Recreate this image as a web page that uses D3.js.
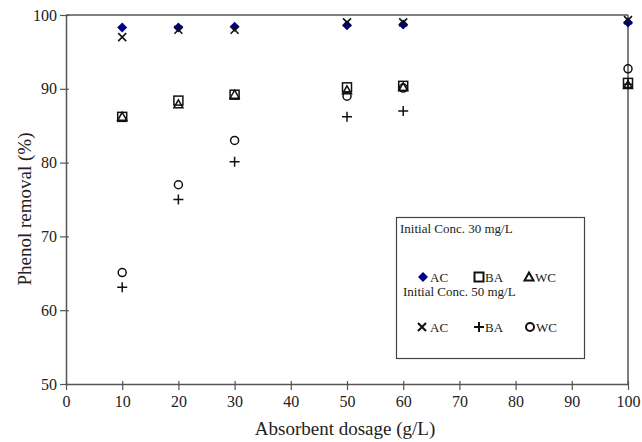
<!DOCTYPE html>
<html><head><meta charset="utf-8">
<script src="https://cdn.jsdelivr.net/npm/d3@7"></script>
<style>body{margin:0;background:#fff}svg{display:block}text{font-family:"Liberation Serif","Times New Roman",serif}</style>
</head><body><svg id="c" width="642" height="442"></svg>
<script>
const dosage = [10, 20, 30, 50, 60, 100];
const ac30 = [98.3, 98.3, 98.4, 98.6, 98.7, 99.0];
const ba30 = [86.2, 88.4, 89.2, 90.2, 90.4, 90.8];
const wc30 = [86.2, 87.9, 89.2, 89.8, 90.2, 90.5];
const ac50 = [97.0, 98.0, 98.0, 99.0, 99.0, 99.3];
const ba50 = [63.1, 75.0, 80.1, 86.2, 87.0, 90.6];
const wc50 = [65.1, 77.0, 83.0, 89.0, 90.1, 92.7];
const xTicks = [0,10,20,30,40,50,60,70,80,90,100];
const yTicks = [50,60,70,80,90,100];

const svg = d3.select("#c");
const x = d3.scaleLinear().domain([0,100]).range([66,628]);
const y = d3.scaleLinear().domain([50,100]).range([384,15]);
const axisColor = "#555";

// frame
svg.append("line").attr("x1",x(0)).attr("x2",x(100)).attr("y1",y(100)).attr("y2",y(100)).attr("stroke",axisColor).attr("stroke-width",1.5);
svg.append("line").attr("x1",x(100)).attr("x2",x(100)).attr("y1",y(100)).attr("y2",y(50)).attr("stroke",axisColor).attr("stroke-width",1.5);

const xa = svg.append("g").attr("transform",`translate(0,${y(50)})`).call(d3.axisBottom(x).tickValues(xTicks).tickSize(6).tickSizeOuter(0).tickPadding(6));
const ya = svg.append("g").attr("transform",`translate(${x(0)},0)`).call(d3.axisLeft(y).tickValues(yTicks).tickSize(6).tickSizeOuter(0).tickPadding(3));
[xa,ya].forEach(a=>{
  a.select(".domain").attr("stroke",axisColor).attr("stroke-width",1.5);
  a.selectAll(".tick line").attr("stroke",axisColor).attr("stroke-width",1.2);
  a.selectAll(".tick text").attr("fill","#222").style("font-size","16px").style("font-family",'"Liberation Serif",serif');
});
xa.selectAll(".tick line").attr("y1",-3);
ya.selectAll(".tick line").attr("x1",3);

svg.append("text").attr("x",345).attr("y",435).attr("text-anchor","middle").attr("fill","#222").style("font-size","19px").text("Absorbent dosage (g/L)");
svg.append("text").attr("transform","translate(31,209) rotate(-90)").attr("text-anchor","middle").attr("fill","#222").style("font-size","19px").text("Phenol removal (%)");

function marker(g, type, cx, cy, w){
  const s = "#111";
  w = w || 1.5;
  if(type==="diamond") g.append("path").attr("d",`M${cx},${cy-5}L${cx+5},${cy}L${cx},${cy+5}L${cx-5},${cy}Z`).attr("fill","#00008b");
  else if(type==="square") g.append("rect").attr("x",cx-4.5).attr("y",cy-4.5).attr("width",9).attr("height",9).attr("fill","none").attr("stroke",s).attr("stroke-width",w);
  else if(type==="triangle") g.append("path").attr("d",`M${cx},${cy-4.5}L${cx+4.5},${cy+3.5}L${cx-4.5},${cy+3.5}Z`).attr("fill","none").attr("stroke",s).attr("stroke-width",w);
  else if(type==="x") g.append("path").attr("d",`M${cx-4},${cy-4}L${cx+4},${cy+4}M${cx-4},${cy+4}L${cx+4},${cy-4}`).attr("stroke",s).attr("stroke-width",w+0.1);
  else if(type==="plus") g.append("path").attr("d",`M${cx-5},${cy}L${cx+5},${cy}M${cx},${cy-5}L${cx},${cy+5}`).attr("stroke",s).attr("stroke-width",w);
  else if(type==="circle") g.append("circle").attr("cx",cx).attr("cy",cy).attr("r",4).attr("fill","none").attr("stroke",s).attr("stroke-width",w);
}

const series = [
  {vals: wc50, type:"circle"},
  {vals: ba50, type:"plus"},
  {vals: ba30, type:"square"},
  {vals: wc30, type:"triangle"},
  {vals: ac30, type:"diamond"},
  {vals: ac50, type:"x"}
];
const pts = svg.append("g");
series.forEach(sr=>{
  dosage.forEach((d,i)=>marker(pts, sr.type, x(d), y(sr.vals[i])));
});

// legend
const lg = svg.append("g");
lg.append("rect").attr("x",396.5).attr("y",217.5).attr("width",188).attr("height",141).attr("fill","#fff").attr("stroke","#444").attr("stroke-width",1.2);
lg.append("text").attr("x",400).attr("y",233).attr("fill","#222").style("font-size","13px").text("Initial Conc. 30 mg/L");
lg.append("text").attr("x",403).attr("y",296).attr("fill","#222").style("font-size","13px").text("Initial Conc. 50 mg/L");
const legItems = [
  {type:"diamond", label:"AC", mx:423, tx:430, row:277},
  {type:"square", label:"BA", mx:479, tx:485, row:277},
  {type:"triangle", label:"WC", mx:529, tx:535, row:277},
  {type:"x", label:"AC", mx:422, tx:430, row:327},
  {type:"plus", label:"BA", mx:479, tx:485, row:327},
  {type:"circle", label:"WC", mx:530, tx:536, row:327}
];
legItems.forEach(it=>{
  marker(lg, it.type, it.mx, it.row, 2);
  lg.append("text").attr("x",it.tx).attr("y",it.row+4.5).attr("fill","#222").style("font-size","13px").text(it.label);
});
</script></body></html>
